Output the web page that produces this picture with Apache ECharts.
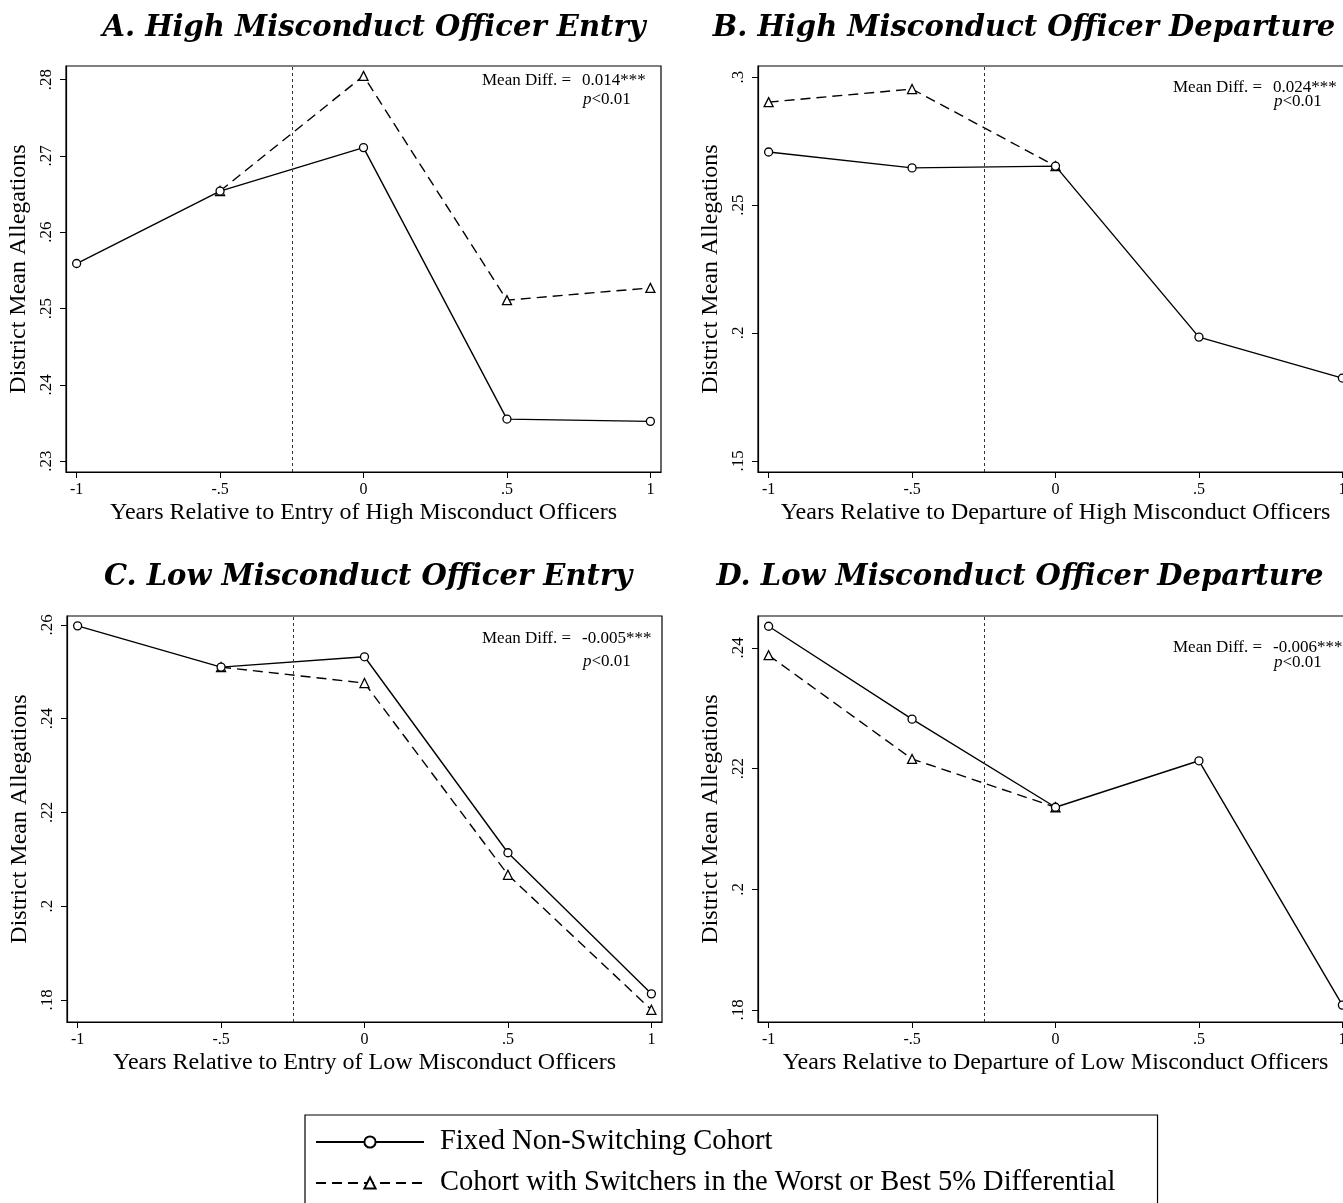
<!DOCTYPE html>
<html>
<head>
<meta charset="utf-8">
<script src="https://cdn.jsdelivr.net/npm/echarts@6/dist/echarts.min.js"></script>
<style>
  html, body { margin: 0; padding: 0; background: #fff; overflow: hidden; }
  #chart { width: 1370px; height: 1203px; }
</style>
</head>
<body>
<div id="chart"></div>
<script>
// x positions (years relative to event)
const years = [-1, -0.5, 0, 0.5, 1];
const xTicks = [-1, -0.5, 0, 0.5, 1];

const seriesNames = ['Fixed Non-Switching Cohort', 'Cohort with Switchers in the Worst or Best 5% Differential'];

// A. High misconduct entry
const aFixed = [0.2559, 0.2654, 0.2711, 0.2355, 0.2352];
const aSwitch = [null, 0.2654, 0.2805, 0.2511, 0.2527];
const aTicks = [0.23, 0.24, 0.25, 0.26, 0.27, 0.28];

// B. High misconduct departure
const bFixed = [0.2707, 0.2645, 0.2652, 0.1984, 0.1824];
const bSwitch = [0.2902, 0.2953, 0.2652, null, null];
const bTicks = [0.15, 0.2, 0.25, 0.3];

// C. Low misconduct entry
const cFixed = [0.2598, 0.2510, 0.2532, 0.2114, 0.1813];
const cSwitch = [null, 0.2510, 0.2476, 0.2067, 0.1779];
const cTicks = [0.18, 0.2, 0.22, 0.24, 0.26];

// D. Low misconduct departure
const dFixed = [0.2436, 0.2282, 0.2136, 0.2213, 0.1808];
const dSwitch = [0.2388, 0.2216, 0.2136, null, null];
const dTicks = [0.18, 0.2, 0.22, 0.24];

const titles = [
  'A. High Misconduct Officer Entry',
  'B. High Misconduct Officer Departure',
  'C. Low Misconduct Officer Entry',
  'D. Low Misconduct Officer Departure'
];
const xNames = [
  'Years Relative to Entry of High Misconduct Officers',
  'Years Relative to Departure of High Misconduct Officers',
  'Years Relative to Entry of Low Misconduct Officers',
  'Years Relative to Departure of Low Misconduct Officers'
];
const meanDiffs = ['0.014***', '0.024***', '-0.005***', '-0.006***'];

const panels = [
  { fixed: aFixed, sw: aSwitch, ticks: aTicks, ymin: 0.22856, ymax: 0.2818 },
  { fixed: bFixed, sw: bSwitch, ticks: bTicks, ymin: 0.1457, ymax: 0.3043 },
  { fixed: cFixed, sw: cSwitch, ticks: cTicks, ymin: 0.1753, ymax: 0.2619 },
  { fixed: dFixed, sw: dSwitch, ticks: dTicks, ymin: 0.178, ymax: 0.2453 }
];

const FONT = '"Liberation Serif", "Times New Roman", serif';

const fmt = v => {
  let s = String(+(+v).toFixed(3));
  return s.replace(/^0\./, '.').replace(/^-0\./, '-.');
};

// layout of the four plot boxes
const gridPos = [
  { left: 66, top: 66 },
  { left: 758, top: 66 },
  { left: 67, top: 616 },
  { left: 758, top: 616 }
];
const titlePos = [
  { x: 369, y: 9 },
  { x: 1019, y: 9 },
  { x: 363, y: 558 },
  { x: 1015, y: 558 }
];
const notePos = [
  { x: 482, y: 72, gap: 19 },
  { x: 1173, y: 79, gap: 14 },
  { x: 482, y: 630, gap: 23 },
  { x: 1173, y: 639, gap: 15 }
];

const chart = echarts.init(document.getElementById('chart'));

const grid = [], xAxis = [], yAxis = [], series = [], title = [], graphic = [];

panels.forEach((p, i) => {
  grid.push({
    left: gridPos[i].left, top: gridPos[i].top, width: 595, height: 406,
    show: true, borderColor: '#000', borderWidth: 1.2, backgroundColor: '#fff'
  });
  xAxis.push({
    type: 'value', gridIndex: i, min: -1.037, max: 1.037,
    splitLine: { show: false },
    axisLine: { show: true, onZero: false, lineStyle: { color: '#000', width: 1.2 } },
    axisTick: { show: true, length: 6, customValues: xTicks, lineStyle: { color: '#000' } },
    axisLabel: { customValues: xTicks, formatter: fmt, color: '#000', fontFamily: FONT, fontSize: 16, margin: 10 },
    name: xNames[i], nameLocation: 'middle', nameGap: 29,
    nameTextStyle: { color: '#000', fontFamily: FONT, fontSize: 24 }
  });
  yAxis.push({
    type: 'value', gridIndex: i, min: p.ymin, max: p.ymax,
    splitLine: { show: false },
    axisLine: { show: true, onZero: false, lineStyle: { color: '#000', width: 1.2 } },
    axisTick: { show: true, length: 6, customValues: p.ticks, lineStyle: { color: '#000' } },
    axisLabel: { customValues: p.ticks, formatter: fmt, rotate: 90, color: '#000', fontFamily: FONT, fontSize: 17, margin: 11 },
    name: 'District Mean Allegations', nameLocation: 'middle', nameGap: 35,
    nameTextStyle: { color: '#000', fontFamily: FONT, fontSize: 24 }
  });
  series.push({
    name: seriesNames[0], type: 'line', xAxisIndex: i, yAxisIndex: i,
    data: years.map((x, k) => [x, p.fixed[k]]),
    symbol: 'circle', symbolSize: 8, showAllSymbol: true,
    itemStyle: { color: '#fff', borderColor: '#000', borderWidth: 1.3 },
    lineStyle: { color: '#000', width: 1.4, type: 'solid' },
    markLine: {
      silent: true, symbol: 'none', label: { show: false },
      lineStyle: { color: '#333', width: 1, type: [3, 3] },
      data: [{ xAxis: -0.25 }]
    },
    z: 3
  });
  series.push({
    name: seriesNames[1], type: 'line', xAxisIndex: i, yAxisIndex: i,
    data: years.map((x, k) => [x, p.sw[k]]).filter(d => d[1] !== null),
    symbol: 'triangle', symbolSize: 9, showAllSymbol: true,
    itemStyle: { color: '#fff', borderColor: '#000', borderWidth: 1.3 },
    lineStyle: { color: '#000', width: 1.4, type: [10, 6] },
    z: 2
  });
  title.push({
    text: titles[i], left: titlePos[i].x, top: titlePos[i].y, textAlign: 'center',
    textStyle: { fontFamily: '"DejaVu Serif", serif', fontStyle: 'italic', fontWeight: 'bold', fontSize: 29, color: '#000' }
  });
  graphic.push({
    type: 'text', left: notePos[i].x, top: notePos[i].y,
    style: { text: 'Mean Diff. =', fontFamily: FONT, fontSize: 17, fill: '#000' }
  });
  graphic.push({
    type: 'text', left: notePos[i].x + 100, top: notePos[i].y,
    style: { text: meanDiffs[i], fontFamily: FONT, fontSize: 17, fill: '#000' }
  });
  graphic.push({
    type: 'text', left: notePos[i].x + 101, top: notePos[i].y + notePos[i].gap,
    style: {
      text: '{i|p}<0.01',
      rich: { i: { fontStyle: 'italic', fontFamily: FONT, fontSize: 17 } },
      fontFamily: FONT, fontSize: 17, fill: '#000'
    }
  });
});

const option = {
  animation: false,
  backgroundColor: '#fff',
  title: title,
  grid: grid,
  xAxis: xAxis,
  yAxis: yAxis,
  series: series,
  graphic: graphic,
  legend: {
    data: seriesNames,
    orient: 'vertical',
    left: 305, top: 1115,
    height: 300,
    padding: [12, 42, 30, 10],
    borderColor: '#000', borderWidth: 1.2,
    itemWidth: 108, itemHeight: 14, itemGap: 11,
    textStyle: { fontFamily: FONT, fontSize: 28.5, color: '#000', lineHeight: 30, padding: [0, 0, 0, 11] },
    selectedMode: false
  }
};

chart.setOption(option);
window.addEventListener('resize', () => chart.resize());
</script>
</body>
</html>
